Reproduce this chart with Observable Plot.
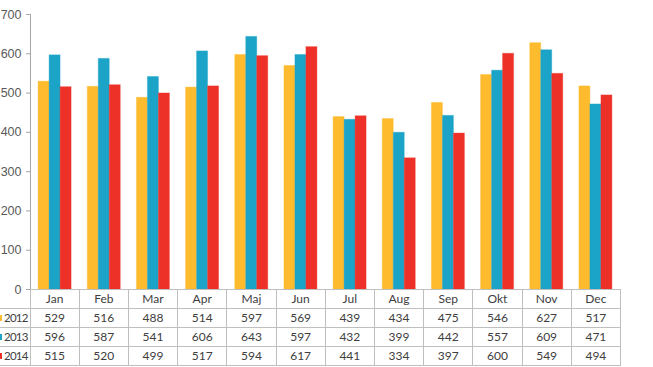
<!DOCTYPE html>
<html>
<head>
<meta charset="utf-8">
<script src="https://cdn.jsdelivr.net/npm/d3@7"></script>
<script src="https://cdn.jsdelivr.net/npm/@observablehq/plot@0.6"></script>
<style>
  body { margin: 0; background: #fff; }
  #wrap { position: relative; width: 653px; height: 367px; overflow: hidden; font-family: Lato, "Open Sans", sans-serif; }
  #chart { position: absolute; left: 0; top: 0; }
  table { position: absolute; left: 0; top: 289px; width: 621px; border-collapse: collapse; table-layout: fixed; color: #404040; font-size: 12px; }
  td { height: 18px; padding: 0; text-align: center; border: 1px solid #bfbfbf; line-height: 18px; white-space: nowrap; overflow: visible; }
  td.lab { text-align: right; padding-right: 2px; border-left: none; font-size: 11.5px; letter-spacing: -0.8px; position: relative; }
  td.blank { border: none; border-right: 1px solid #bfbfbf; }
  .sw { position: absolute; left: -3px; top: 6px; width: 5px; height: 6px; }
</style>
</head>
<body>
<div id="wrap">
  <div id="chart"></div>
  <table id="tbl"></table>
</div>
<script>
const months = ["Jan","Feb","Mar","Apr","Maj","Jun","Jul","Aug","Sep","Okt","Nov","Dec"];
const years = ["2012","2013","2014"];
const v2012 = [529,516,488,514,597,569,439,434,475,546,627,517];
const v2013 = [596,587,541,606,643,597,432,399,442,557,609,471];
const v2014 = [515,520,499,517,594,617,441,334,397,600,549,494];
const yTicks = [0,100,200,300,400,500,600,700];
const colors = ["#FDBB2D","#1CA3C8","#EE3128"];

const series = [v2012, v2013, v2014];
const data = [];
months.forEach((m, i) => years.forEach((y, j) => data.push({month: m, year: y, value: series[j][i]})));

const chart = Plot.plot({
  width: 653,
  height: 298,
  marginTop: 14,
  marginBottom: 9,
  marginLeft: 30,
  marginRight: 33,
  style: {fontFamily: "'Liberation Sans', Arial, sans-serif", fontSize: "12px", background: "transparent"},
  fx: {domain: months, padding: 0, axis: null, round: false},
  x: {domain: years, paddingInner: 0, paddingOuter: 0.735, axis: null, round: false},
  y: {domain: [0, 700], axis: null},
  color: {domain: years, range: colors},
  marks: [
    Plot.barY(data, {fx: "month", x: "year", y: "value", fill: "year", stroke: "year", strokeOpacity: 0.35, strokeWidth: 1}),
    Plot.axisY({ticks: yTicks, tickSize: 4, tickPadding: 5, stroke: "#a6a6a6", fill: "#595959", fontSize: 12.5, tickFormat: d => d, label: null}),
    Plot.frame({anchor: "left", stroke: "#a6a6a6", facetAnchor: "left"})
  ]
});
document.getElementById("chart").appendChild(chart);

// data table
const tbl = d3.select("#tbl");
const cg = tbl.append("colgroup");
cg.append("col").style("width", "30px");
months.forEach(() => cg.append("col"));
const hr = tbl.append("tr");
hr.append("td").attr("class", "blank");
months.forEach(m => hr.append("td").text(m));
years.forEach((y, j) => {
  const tr = tbl.append("tr");
  const lab = tr.append("td").attr("class", "lab");
  lab.append("span").attr("class", "sw").style("background", colors[j]);
  lab.append("span").text(y);
  series[j].forEach(v => tr.append("td").text(v));
});
</script>
</body>
</html>
